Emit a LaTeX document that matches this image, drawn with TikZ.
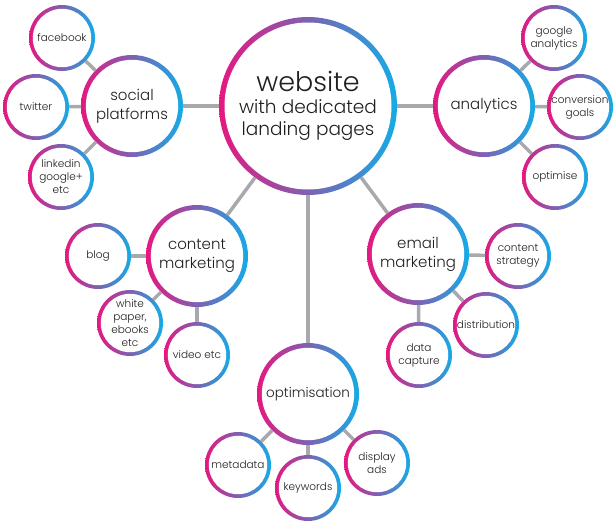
\documentclass[tikz,border=0pt]{standalone}
\usepackage{fontspec}
\setmainfont{Poppins}[UprightFont=* Light]
\usepackage{xcolor}

\definecolor{ringpink}{RGB}{230,23,128}
\definecolor{ringblue}{RGB}{20,172,230}
\definecolor{linkgray}{RGB}{167,169,172}
\definecolor{textdark}{RGB}{35,31,32}

\tikzset{
  bubble/.style 2 args={circle, minimum size=2*#1, inner sep=0pt, outer sep=0pt,
    align=center, text=textdark,
    path picture={
      \shade[left color=ringpink, right color=ringblue]
        (path picture bounding box.south west) rectangle (path picture bounding box.north east);
      \fill[white] (path picture bounding box.center) circle[radius=#1-#2];
    }},
  hub/.style={bubble={89pt}{5.5pt}, font=\fontsize{18.5}{22}\selectfont},
  topic/.style={bubble={51pt}{4.8pt}, font=\fontsize{15}{19}\selectfont},
  leaf/.style={bubble={33pt}{3.8pt}, font=\fontsize{10.5}{13}\selectfont},
  link/.style={draw=linkgray, line width=3.5pt}
}

\begin{document}
\begin{tikzpicture}[x=1pt, y=-1pt]
  \useasboundingbox (0,0) rectangle (616,531);

  % Central website node
  \node[hub] (web) at (308,106) {{\fontsize{27}{24}\selectfont website}\\with dedicated\\landing pages};

  % Social platforms
  \node[topic] (social) at (132,106) {social\\platforms};
  \node[leaf] (fb) at (62,38) {facebook};
  \node[leaf] (tw) at (36,107) {twitter};
  \node[leaf] (li) at (61,177) {linkedin\\google+\\etc};

  % Analytics
  \node[topic] (anl) at (484,106) {analytics};
  \node[leaf] (ga) at (554,38) {google\\analytics};
  \node[leaf] (cg) at (580,107) {conversion\\goals};
  \node[leaf] (opt) at (555,177) {optimise};

  % Content marketing
  \node[topic] (cm) at (197,256) {content\\marketing};
  \node[leaf] (blog) at (98,256) {blog};
  \node[leaf] (wp) at (130,323) {white\\paper,\\ebooks\\etc};
  \node[leaf] (vid) at (197,355) {video etc};

  % Email marketing
  \node[topic] (em) at (418,254) {email\\marketing};
  \node[leaf] (cs) at (518,256) {content\\strategy};
  \node[leaf] (dist) at (486,325) {distribution};
  \node[leaf] (dc) at (419,355) {data\\capture};

  % Optimisation
  \node[topic, font=\fontsize{13.5}{18}\selectfont] (optm) at (308,394) {optimisation};
  \node[leaf] (meta) at (238,465) {metadata};
  \node[leaf] (kw) at (308,488) {keywords};
  \node[leaf] (da) at (377,463) {display\\ads};

  % Links from the centre
  \draw[link] (web) -- (social);
  \draw[link] (web) -- (anl);
  \draw[link] (web) -- (cm);
  \draw[link] (web) -- (em);
  \draw[link] (web) -- (optm);

  % Links to the leaves
  \draw[link] (social) -- (fb);
  \draw[link] (social) -- (tw);
  \draw[link] (social) -- (li);
  \draw[link] (anl) -- (ga);
  \draw[link] (anl) -- (cg);
  \draw[link] (anl) -- (opt);
  \draw[link] (cm) -- (blog);
  \draw[link] (cm) -- (wp);
  \draw[link] (cm) -- (vid);
  \draw[link] (em) -- (cs);
  \draw[link] (em) -- (dist);
  \draw[link] (em) -- (dc);
  \draw[link] (optm) -- (meta);
  \draw[link] (optm) -- (kw);
  \draw[link] (optm) -- (da);
\end{tikzpicture}
\end{document}
